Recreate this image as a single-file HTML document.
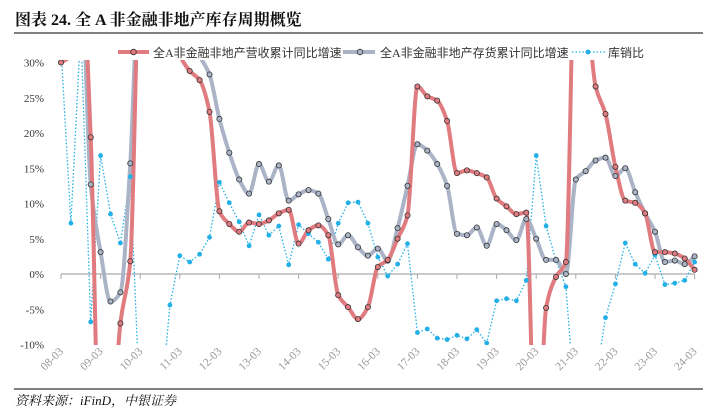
<!DOCTYPE html>
<html><head><meta charset="utf-8">
<style>
html,body{margin:0;padding:0;background:#fff;width:703px;height:414px;overflow:hidden;font-family:"Liberation Serif","Noto Serif CJK SC",serif;}
svg{display:block;position:absolute;left:0;top:0}
</style></head>
<body>
<svg id="chart" width="703" height="414" viewBox="0 0 703 414" overflow="hidden">
  <text x="15" y="25" font-size="16" font-weight="bold" fill="#111" font-family="Liberation Serif,'Noto Serif CJK SC',serif">图表 24. 全 A 非金融非地产库存周期概览</text>
  <line x1="14" y1="33" x2="703" y2="33" stroke="#555" stroke-width="1.5"/>
  <line x1="14" y1="389" x2="703" y2="389" stroke="#555" stroke-width="1.5"/>
  <text x="15" y="405" font-size="13" font-style="italic" fill="#111">资料来源：iFinD，中银证券</text>
  <defs><clipPath id="pc"><rect x="40" y="60" width="663" height="285"/></clipPath></defs>
  <g id="yaxis"></g>
  <g id="xaxis"></g>
  <g id="series" clip-path="url(#pc)"></g>
  <g id="legend">
    <g>
      <line x1="118" y1="52" x2="149" y2="52" stroke="#e07b80" stroke-width="4"/>
      <circle cx="133.5" cy="52" r="2.8" fill="#e07b80" stroke="#333" stroke-width="0.8"/>
      <text x="153" y="57" font-size="12" fill="#333" font-family="Liberation Serif,'Noto Sans CJK SC',sans-serif">全A非金融非地产营收累计同比增速</text>
    </g>
    <g>
      <line x1="343" y1="52" x2="375" y2="52" stroke="#aab4c6" stroke-width="4"/>
      <circle cx="360" cy="52" r="2.8" fill="#aab4c6" stroke="#333" stroke-width="0.8"/>
      <text x="380" y="57" font-size="12" fill="#333" font-family="Liberation Serif,'Noto Sans CJK SC',sans-serif">全A非金融非地产存货累计同比增速</text>
    </g>
    <g>
      <line x1="572" y1="52" x2="605" y2="52" stroke="#22b0e6" stroke-width="1.3" stroke-dasharray="1.5,2"/>
      <circle cx="588" cy="52" r="2.5" fill="#22b0e6"/>
      <text x="608" y="57" font-size="12" fill="#333" font-family="Liberation Serif,'Noto Sans CJK SC',sans-serif">库销比</text>
    </g>
  </g>
</svg>
<script>
const yTicks=[30,25,20,15,10,5,0,-5,-10];
const years=["08","09","10","11","12","13","14","15","16","17","18","19","20","21","22","23","24"];
const revenue=[30,31,45,19.4,-30,-25,-7,1.8,45,45,40,35,31,28.8,27.5,23.0,8.9,7.1,6.0,7.3,7.1,7.6,8.6,9.1,4.3,6.2,6.9,5.5,-3.0,-4.7,-6.4,-4.7,1.0,2.0,5.0,8.3,26.6,25.2,24.6,21.7,14.3,14.7,14.3,13.7,10.7,9.6,8.5,8.7,-30,-4.8,-0.4,1.7,50,40,26.6,22.7,15.2,10.4,10.1,8.6,3.1,3.1,2.9,2.2,0.6];
const inventory=[45,50,45,12.7,3.1,-3.9,-2.6,15.7,45,45,42,40,38,35,31,28.3,22.0,17.2,13.4,11.4,15.6,13.1,15.4,10.4,11.3,11.9,11.4,7.8,4.2,5.5,3.8,2.6,3.6,1.9,6.5,12.5,18.4,17.5,15.6,12.5,5.7,5.5,6.6,4.0,7.1,6.2,4.8,7.8,5.0,2.0,2.0,0.0,13.4,14.6,16.1,16.5,13.9,15.0,11.6,8.6,6.0,1.7,1.9,1.4,2.5];
const ratio=[32,7.2,35,-6.8,16.8,8.5,4.4,13.8,-20,-25,-20,-4.4,2.6,1.7,2.8,5.2,13.0,10.1,7.4,4.0,8.4,5.5,6.8,1.3,7.0,5.7,4.5,2.1,7.2,10.1,10.2,7.2,2.4,-0.3,1.4,4.3,-8.3,-7.8,-9.1,-9.3,-8.7,-9.2,-7.9,-9.8,-3.8,-3.5,-3.8,-0.9,16.8,6.8,1.9,-1.8,-20,-25,-15,-6.2,-1.4,4.4,1.4,0.1,2.7,-1.5,-1.3,-0.9,1.7];
const NS='http://www.w3.org/2000/svg';
function xS(i){return 61+i*9.9;}
function yS(v){return 274-v*7.05;}
function mk(tag,attrs,parent){const e=document.createElementNS(NS,tag);for(const k in attrs)e.setAttribute(k,attrs[k]);parent.appendChild(e);return e;}
const yg=document.getElementById('yaxis');
yTicks.forEach(v=>{
  const t=mk('text',{x:44,y:yS(v)+4,'text-anchor':'end','font-size':11,fill:'#333'},yg);
  
  
  t.textContent=v+'%';
});
const xg=document.getElementById('xaxis');
const base=mk('line',{x1:xS(0),y1:yS(0),x2:xS(64),y2:yS(0),stroke:'#aaa','stroke-width':1.2},xg);


years.forEach((y,k)=>{
  const x=xS(k*4);
  const tk=mk('line',{x1:x,y1:yS(0),x2:x,y2:yS(0)+5,stroke:'#aaa','stroke-width':1},xg);
  
  
  const t=mk('text',{x:x+3,y:352,'text-anchor':'end','font-size':11.5,fill:'#999',transform:`rotate(-45 ${x+3} 352)`},xg);
  
  
  t.textContent=y+'-03';
});
function smooth(vals){
  const p=vals.map((v,i)=>[xS(i),yS(v)]);
  const n=p.length,d=[],m=[];
  for(let i=0;i<n-1;i++)d.push((p[i+1][1]-p[i][1])/(p[i+1][0]-p[i][0]));
  for(let i=0;i<n;i++){
    if(i===0)m.push(d[0]);else if(i===n-1)m.push(d[n-2]);
    else if(d[i-1]*d[i]<=0)m.push(0);
    else{const a=d[i-1],b=d[i];m.push(2/(1/a+1/b));}
  }
  let s=`M${p[0][0]},${p[0][1]}`;
  for(let i=0;i<n-1;i++){
    const h=(p[i+1][0]-p[i][0])/3;
    s+=` C${p[i][0]+h},${p[i][1]+m[i]*h} ${p[i+1][0]-h},${p[i+1][1]-m[i+1]*h} ${p[i+1][0]},${p[i+1][1]}`;
  }
  return s;
}
const sg=document.getElementById('series');
function poly(vals){return vals.map((v,i)=>xS(i)+','+yS(v)).join(' ');}
const rl=mk('polyline',{points:poly(ratio),fill:'none',stroke:'#22b0e6','stroke-width':1.3,'stroke-dasharray':'1.5,2'},sg);


const il=mk('path',{d:smooth(inventory),fill:'none',stroke:'#aab4c6','stroke-width':4},sg);


const vl=mk('path',{d:smooth(revenue),fill:'none',stroke:'#e07b80','stroke-width':4},sg);


ratio.forEach((v,i)=>{
  const c=mk('circle',{cx:xS(i),cy:yS(v),r:2.4,fill:'#22b0e6'},sg);
  
  
});
inventory.forEach((v,i)=>{
  const c=mk('circle',{cx:xS(i),cy:yS(v),r:2.6,fill:'#aab4c6',stroke:'#333','stroke-width':0.8},sg);
  
  
});
revenue.forEach((v,i)=>{
  const c=mk('circle',{cx:xS(i),cy:yS(v),r:2.6,fill:'#e07b80',stroke:'#333','stroke-width':0.8},sg);
  
  
});
</script>
</body></html>
